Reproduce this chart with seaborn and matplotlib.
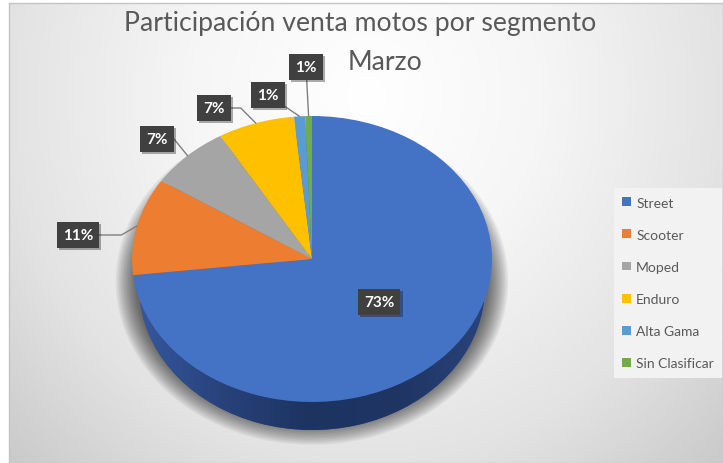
import numpy as np
import matplotlib
matplotlib.use('Agg')
import matplotlib.pyplot as plt
import matplotlib.patheffects as pe
from matplotlib.colors import LinearSegmentedColormap
from matplotlib.patches import Ellipse
from matplotlib.transforms import Affine2D
import seaborn as sns

# datos
segmentos = ['Street', 'Scooter', 'Moped', 'Enduro', 'Alta Gama', 'Sin Clasificar']
participacion = [73.2, 11.0, 7.3, 6.9, 1.0, 0.6]
etiquetas = ['73%', '11%', '7%', '7%', '1%', '1%']
colores = ['#4472C4', '#ED7D31', '#A5A5A5', '#FFC000', '#5B9BD5', '#70AD47']
colores_lado = ['#2B4C8C', '#A9561F', '#737373', '#B38600', '#3F6F9A', '#4E7A31']

titulo = 'Participación venta motos por segmento'
subtitulo = 'Marzo'

sns.set_theme(style='white')
plt.rcParams['font.family'] = ['Lato', 'DejaVu Sans']

W, H = 723, 464
fig = plt.figure(figsize=(W / 100, H / 100), dpi=100)
fig.patch.set_facecolor('white')

# fondo con degradado (area del grafico)
x0, y0 = 9, 4
bg = fig.add_axes([x0 / W, 0, 1 - x0 / W, 1 - y0 / H], zorder=0)
yy, xx = np.mgrid[0:1:200j, 0:1:300j]
r = np.sqrt(((xx - 0.5) / 0.5) ** 2 + ((yy - 0.2) / 0.8) ** 2)
cmap_bg = LinearSegmentedColormap.from_list(
    'bg', [(0, '#ffffff'), (0.35, '#f6f6f6'), (0.72, '#e3e3e3'), (1.0, '#cbcbcb')])
bg.imshow(r, cmap=cmap_bg, aspect='auto', extent=(0, 1, 0, 1), vmin=0, vmax=1.4)
bg.set_xticks([])
bg.set_yticks([])
for s in bg.spines.values():
    s.set_color('#c4c4c4')
    s.set_linewidth(1)

# geometria de la torta (pixeles)
cx, cy, rx, ry = 312, 260, 180, 143
prof = 28 / ry

ax = fig.add_axes([0, 0, 1, 1], zorder=1)
ax.patch.set_alpha(0)

def px(x, y):
    return ((x - cx) / rx, (cy - y) / ry)

# sombra difusa
for k in range(14):
    ax.add_patch(Ellipse((0, -prof * 0.8), 2 * (0.98 + 0.0085 * k), 2 * (1.0 + 0.011 * k),
                         color='black', alpha=0.05, lw=0, zorder=0))

# lado de la torta (base un poco mas angosta por perspectiva)
lado, _ = ax.pie(participacion, colors=colores_lado, radius=1,
                 startangle=90, counterclock=False, wedgeprops=dict(linewidth=0))
base = Affine2D().scale(0.96, 1.0).translate(0, -prof) + ax.transData
for w in lado:
    w.set_transform(base)
grad = np.linspace(0, 1, 200)[None, :]
cmap_lado = LinearSegmentedColormap.from_list('lado', ['#3659a1', '#28427a', '#1d3360', '#1f3564', '#2a447b'])
im = ax.imshow(grad, cmap=cmap_lado, extent=(-1, 1, -1 - prof, 0), aspect='auto', zorder=1)
im.set_clip_path(lado[0])

# cara superior
cara, _ = ax.pie(participacion, colors=colores, radius=1, startangle=90,
                 counterclock=False, wedgeprops=dict(linewidth=0))
for w in cara:
    w.set_zorder(2)

ax.set_aspect('auto')
ax.set_xlim(-cx / rx, (W - cx) / rx)
ax.set_ylim(-(H - cy) / ry, cy / ry)
ax.axis('off')

# etiquetas
pos_caja = [None, (78, 236), (157, 140), (214, 109), (268, 96), (306, 68)]
conexion = [None, 'angle,angleA=0,angleB=30,rad=0', 'angle,angleA=0,angleB=129,rad=0',
            'angle,angleA=0,angleB=135,rad=0', 'arc3', 'arc3']
caja = dict(boxstyle='square,pad=0.4', fc='#404040', ec='none')
sombra = [pe.withSimplePatchShadow(offset=(1.5, -1.5), alpha=0.35)]
for i, w in enumerate(cara):
    ang = np.deg2rad((w.theta1 + w.theta2) / 2)
    if i == 0:
        t = ax.text(0.5 * np.cos(ang), 0.45 * np.sin(ang), etiquetas[i], color='white',
                    fontsize=11, fontweight='bold', ha='center', va='center', bbox=caja, zorder=5)
    else:
        t = ax.annotate(etiquetas[i], xy=(np.cos(ang), np.sin(ang)), xytext=px(*pos_caja[i]),
                        color='white', fontsize=11, fontweight='bold', ha='center', va='center',
                        bbox=caja, zorder=5,
                        arrowprops=dict(arrowstyle='-', color='#7f7f7f', lw=1,
                                        shrinkA=0, shrinkB=0, connectionstyle=conexion[i]))
    t.get_bbox_patch().set_path_effects(sombra)

# titulo
fig.text(360 / W, 1 - 24 / H, titulo, ha='center', va='center', fontsize=19.2,
         color='#595959')
fig.text(385 / W, 1 - 62 / H, subtitulo, ha='center', va='center', fontsize=19.2,
         color='#595959')

# leyenda
leg = ax.legend(cara, segmentos, loc='center left', bbox_to_anchor=(614 / W, 1 - 284 / H),
                bbox_transform=fig.transFigure, fontsize=10, frameon=True, fancybox=False,
                facecolor='#f2f2f2', edgecolor='none', framealpha=1, labelspacing=1.45,
                handlelength=0.6, handleheight=0.6, handletextpad=0.4, borderpad=0.6,
                borderaxespad=0)
for txt in leg.get_texts():
    txt.set_color('#595959')

fig.savefig('out.png', dpi=100)
